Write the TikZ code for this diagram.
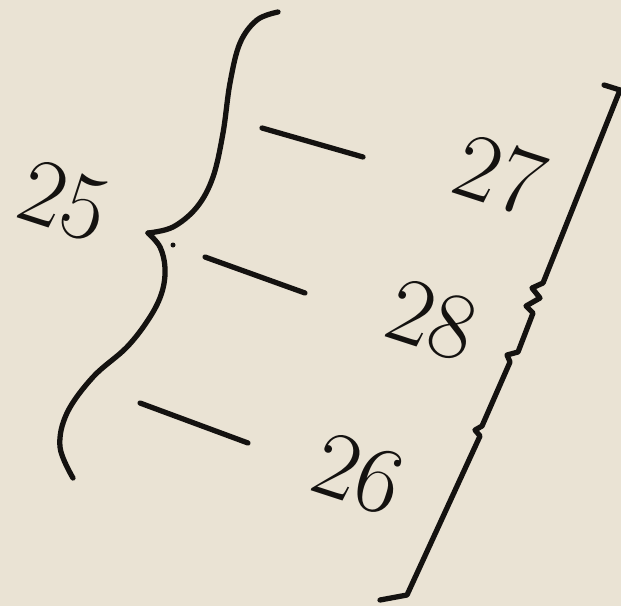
\documentclass[tikz,border=0pt]{standalone}
\usepackage{tikz}
\usetikzlibrary{positioning}

\definecolor{paper}{RGB}{234,227,212}
\definecolor{ink}{RGB}{20,18,16}

\tikzset{
    lead/.style={ink, line width=1.5pt, line cap=round, line join=round},
    refnum/.style={ink, font=\fontsize{27}{27}\selectfont, inner sep=0pt, rotate=-18},
}

\begin{document}
\begin{tikzpicture}[x=0.1mm, y=-0.1mm]
    \fill[paper] (0,0) rectangle (621,606);
    \useasboundingbox (0,0) rectangle (621,606);

    % brace 25
    \draw[lead] plot[smooth, tension=0.6] coordinates {(278,12) (257,20) (240,43) (230,83) (223,133) (213,177) (197,207) (173,227) (148,233)};
    \draw[lead] plot[smooth, tension=0.6] coordinates {(148,233) (160,247) (165,268) (162,292) (150,317) (127,347) (93,377) (67,413) (60,447) (73,478)};
    \fill[ink] (173,245) circle (2.5);

    % leads
    \draw[lead] (262,128) -- (363,157);
    \draw[lead] (205,257) -- (305,293);
    \draw[lead] (140,403) -- (248,443);

    % bracket on the right
    \draw[lead] (604,85) -- (620,90) -- (543,283) -- (532,288) -- (540,298)
        -- (526,306) -- (533,313) -- (518,352) -- (507,355) -- (510,362)
        -- (482,426) -- (475,430) -- (480,436) -- (407,595) -- (380,600);

    % numerals
    \node[refnum] (n25) at (64,201) {25};
    \node[refnum] (n27) at (500,175) {27};
    \node[refnum] (n28) at (432,320) {28};
    \node[refnum] (n26) at (358,474) {26};
\end{tikzpicture}
\end{document}
